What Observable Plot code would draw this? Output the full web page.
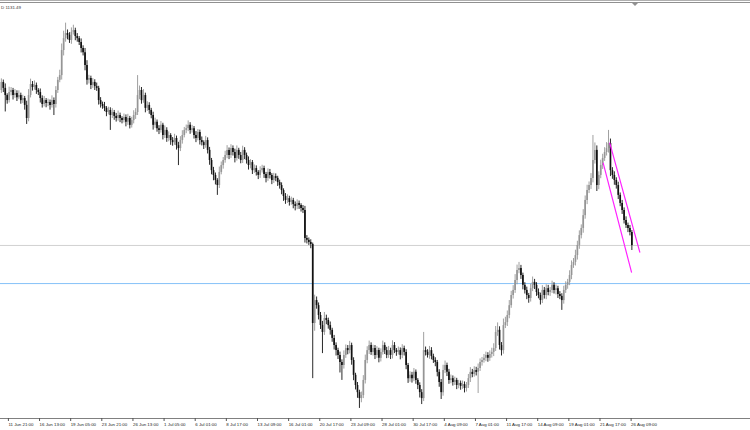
<!DOCTYPE html>
<html><head><meta charset="utf-8">
<script src="https://cdn.jsdelivr.net/npm/d3@7"></script>
<script src="https://cdn.jsdelivr.net/npm/@observablehq/plot@0.6"></script>
<style>html,body{margin:0;padding:0;background:#fff;} svg{display:block}</style>
</head><body><div id="chart"></div>
<script>
// XAUUSD H4 — bar index 0 = 11 Jun 21:00
const firstBar = -3;
const firstOpen = 1183.5;
const closes = [
1186.2,1184.2,1181.8,1180.1,1182.8,1183.5,1181.8,1182.5,1181.1,1181.8,1180.1,1180.8,1178.5,1174.1,1181.8,1185.5,
1184.5,1185.2,1183.5,1182.8,1180.8,1178.8,1180.1,1179.1,1179.5,1178.5,1180.1,1178.8,1183.5,1186.9,1188.5,1196.9,
1200.9,1202.6,1202.0,1200.3,1203.0,1203.6,1201.6,1200.9,1199.6,1197.6,1196.2,1191.9,1186.9,1187.5,1185.2,1186.2,
1184.8,1184.2,1180.1,1178.8,1178.1,1177.5,1176.1,1176.8,1175.1,1176.1,1174.8,1174.1,1175.1,1174.1,1173.4,1174.4,
1172.8,1174.1,1171.8,1173.4,1175.1,1176.1,1181.8,1183.5,1180.1,1181.8,1177.5,1178.5,1176.8,1175.1,1171.8,1172.8,
1170.7,1170.1,1171.8,1168.4,1170.1,1167.4,1168.4,1166.7,1166.0,1167.4,1165.0,1164.0,1166.7,1168.4,1170.1,1170.7,
1171.8,1170.1,1170.7,1168.4,1167.4,1169.4,1166.7,1166.0,1165.0,1166.7,1163.4,1160.0,1156.6,1155.0,1153.3,1151.6,
1156.0,1158.3,1160.0,1161.7,1163.4,1161.7,1164.0,1162.7,1160.7,1163.4,1161.7,1160.0,1163.4,1161.7,1160.0,1158.3,
1159.3,1156.6,1157.3,1156.0,1155.0,1156.6,1157.3,1155.3,1154.0,1156.0,1155.0,1153.3,1154.6,1154.0,1152.6,1151.6,
1149.9,1147.9,1146.6,1147.2,1145.9,1146.6,1145.2,1144.6,1145.6,1144.9,1143.9,1143.2,1133.8,1133.2,1132.5,1131.8,
1105.3,1113.0,1111.3,1108.0,1104.6,1102.3,1107.0,1106.3,1104.6,1103.0,1100.3,1097.9,1096.2,1094.6,1092.2,1091.2,
1094.6,1096.9,1096.2,1097.9,1092.9,1087.9,1084.5,1082.1,1080.1,1081.1,1086.2,1092.9,1096.2,1097.9,1095.6,1096.9,
1094.6,1096.2,1093.6,1095.6,1097.9,1096.2,1094.6,1096.2,1094.6,1097.9,1096.2,1095.6,1096.2,1094.6,1096.9,1095.6,
1091.2,1086.8,1087.9,1086.8,1088.9,1086.2,1084.5,1082.1,1080.1,1096.2,1095.6,1094.6,1096.2,1094.2,1092.9,1092.2,
1088.9,1085.5,1082.1,1089.5,1091.2,1088.9,1086.2,1086.8,1085.5,1086.2,1084.5,1085.2,1084.2,1084.8,1083.5,1084.5,
1086.8,1088.9,1088.2,1089.5,1088.9,1090.2,1092.2,1092.9,1093.6,1094.6,1093.6,1094.9,1095.6,1096.9,1102.3,1103.0,
1097.9,1096.2,1104.6,1105.6,1108.0,1111.3,1114.7,1116.4,1119.7,1123.1,1123.8,1121.4,1118.1,1116.4,1114.7,1113.7,
1117.0,1119.1,1118.1,1115.7,1114.7,1113.0,1116.4,1114.7,1117.0,1115.7,1116.4,1118.1,1116.4,1117.0,1115.0,1114.4,
1113.0,1116.4,1118.1,1119.1,1121.4,1124.8,1125.8,1128.1,1131.5,1134.8,1137.2,1141.5,1146.6,1149.9,1151.6,1154.0,
1160.0,1163.4,1151.6,1155.0,1158.3,1160.7,1162.7,1164.0,1165.7,1156.6,1155.0,1153.3,1151.6,1148.3,1145.6,1143.2,
1139.9,1138.2,1137.2,1135.8,1131.5
];
const upWick = [
1.2,0.8,1.5,0.6,1.8,1.0,0.7,1.3,0.9,1.6,0.8,1.1,0.7,1.4,2.0,1.8,
1.0,1.5,0.8,0.6,1.2,0.9,1.4,0.7,1.1,0.8,1.6,0.9,1.3,1.0,1.8,2.2,
2.5,3.5,1.2,0.9,1.5,1.8,0.8,1.0,0.7,1.2,0.9,1.4,1.6,1.1,0.8,1.3,
0.9,1.2,0.7,1.0,0.8,1.4,0.6,1.1,0.9,1.3,0.7,1.0,1.5,0.8,0.6,1.2,
0.9,1.4,0.7,1.1,1.6,1.3,6.7,1.5,1.0,2.0,0.8,1.2,0.9,0.7,1.1,1.4,
0.8,1.0,1.3,0.7,1.5,0.9,1.2,0.6,1.0,1.4,0.8,1.1,1.3,1.6,1.0,1.2,
1.5,0.9,1.1,0.7,1.3,1.0,0.8,1.2,0.6,1.4,0.9,1.0,0.7,1.1,0.8,0.6,
1.8,1.2,1.0,1.4,1.6,0.8,1.3,0.9,1.1,1.5,0.7,1.0,1.4,0.9,0.8,1.2,
1.0,0.7,1.2,0.9,0.6,1.3,1.1,0.8,0.7,1.2,1.0,0.6,1.1,0.9,0.7,0.8,
0.9,0.6,1.0,1.3,0.8,1.1,0.7,0.9,1.2,0.8,0.6,1.0,1.4,1.0,0.8,0.9,
0.5,1.8,1.2,0.9,1.0,1.4,2.0,1.1,0.8,1.2,0.7,1.0,0.9,0.8,1.1,0.9,
1.5,1.2,1.0,1.4,0.8,0.9,0.7,1.0,0.8,1.2,1.6,1.8,1.3,1.5,0.9,1.1,
1.0,1.3,0.8,1.2,1.5,0.9,1.1,1.4,0.8,1.6,1.0,0.7,1.2,0.9,1.3,0.8,
0.9,0.7,1.2,1.0,1.3,0.8,0.6,0.9,1.0,6.1,1.2,0.9,1.4,1.0,0.8,0.9,
0.7,0.9,1.0,1.8,1.5,0.8,1.0,1.2,0.9,1.1,0.7,1.0,0.8,1.2,0.9,1.0,
1.4,1.6,1.0,1.3,1.1,1.5,1.2,1.0,1.3,1.1,0.9,1.2,1.4,1.6,2.0,2.5,
1.2,1.0,2.2,1.8,1.5,1.7,1.4,1.6,2.0,1.8,2.0,1.0,0.8,0.9,1.1,0.7,
1.5,1.8,1.0,0.9,1.2,0.8,1.6,1.0,1.3,1.1,1.0,1.4,0.9,1.2,0.8,1.0,
0.9,1.4,1.2,1.0,1.6,1.5,1.3,1.8,1.4,1.6,1.2,2.0,1.5,1.8,1.2,1.6,
8.4,2.5,1.5,1.2,1.8,1.4,1.6,2.0,4.4,1.5,1.0,1.2,0.9,1.1,0.8,1.0,
0.9,1.2,0.8,1.0,0.7
];
const downWick = [
1.0,1.4,5.5,1.2,0.8,1.1,1.5,0.9,1.3,0.7,1.2,1.0,1.6,2.0,1.1,0.8,
1.2,0.9,1.3,1.0,1.5,1.2,0.8,1.4,1.0,1.6,0.9,3.7,1.2,1.0,0.8,1.5,
1.8,1.2,1.5,1.0,1.3,0.9,1.4,1.2,1.0,1.5,1.1,1.8,1.6,1.2,1.4,1.0,
1.3,1.0,1.5,1.2,0.9,1.1,1.4,0.8,5.0,1.0,1.3,1.2,0.9,1.4,1.1,0.8,
1.5,1.0,1.2,0.9,1.1,1.3,1.0,1.4,1.2,0.9,1.5,1.0,1.3,1.1,1.6,1.0,
1.2,1.4,0.9,1.5,1.0,1.3,1.1,1.6,1.2,0.9,1.5,5.7,1.0,1.2,0.8,1.1,
1.0,1.3,0.9,1.2,1.4,0.8,1.5,1.1,1.3,0.9,1.2,1.6,1.4,1.8,1.5,3.3,
1.0,0.8,1.2,0.9,1.1,1.4,1.0,1.2,1.5,0.9,1.3,1.1,1.0,1.4,1.2,1.5,
1.1,1.3,0.9,1.2,1.4,1.0,0.8,1.3,1.5,1.0,1.2,1.4,1.0,1.1,1.3,1.2,
1.4,1.6,1.3,1.0,1.2,0.9,1.4,1.5,1.1,1.3,1.2,1.0,1.5,1.2,1.0,1.4,
18.5,2.6,1.2,1.5,1.3,7.1,1.0,1.4,1.2,1.6,1.3,1.5,1.8,1.4,3.5,5.0,
1.2,1.0,1.4,1.1,1.6,1.8,1.5,1.9,3.3,1.4,1.0,1.2,1.1,1.3,1.0,1.2,
1.4,1.0,1.5,1.2,0.9,1.3,1.1,1.0,1.4,1.2,1.0,1.3,0.9,1.5,1.1,1.2,
1.4,1.6,1.2,1.5,1.0,1.3,1.4,1.8,2.0,1.0,1.2,0.9,1.3,1.1,1.0,1.4,
1.5,1.6,2.3,1.2,1.0,1.4,1.3,1.1,1.2,1.0,1.4,1.1,1.3,1.0,1.5,1.2,
1.0,1.3,1.1,0.9,1.2,7.1,1.0,1.2,0.9,1.1,1.3,1.0,1.2,1.4,1.0,1.3,
1.5,1.8,1.2,1.0,1.3,1.1,0.9,1.2,1.0,1.4,1.1,1.3,1.5,1.2,1.4,1.6,
1.2,1.0,1.4,1.3,1.1,1.5,1.0,1.2,1.4,1.1,1.3,1.0,1.2,1.5,1.3,1.1,
3.3,1.2,1.0,1.3,1.1,1.4,1.0,1.2,1.5,1.3,1.1,1.6,1.2,1.4,1.0,1.3,
1.5,1.2,2.0,1.4,1.1,1.3,1.0,1.2,1.5,2.0,1.3,1.6,1.2,1.4,1.1,1.3,
1.2,1.0,1.4,1.1,1.7
];
const tickLabels = [
"11 Jun 21:00","16 Jun 13:00","19 Jun 05:00","23 Jun 21:00","26 Jun 13:00","1 Jul 05:00",
"6 Jul 01:00","8 Jul 17:00","13 Jul 09:00","16 Jul 01:00","20 Jul 17:00","23 Jul 09:00",
"28 Jul 01:00","30 Jul 17:00","4 Aug 09:00","7 Aug 01:00","11 Aug 17:00","14 Aug 09:00",
"19 Aug 01:00","21 Aug 17:00","26 Aug 09:00"
];
const tickEvery = 16;            // bars between time labels
const headerText = "D 1131.49";
const bidPrice = 1131.49;
const levelPrice = 1118.7;
const channelUpper = [[309.66, 1165.81], [325.07, 1129.23]];
const channelLower = [[306.27, 1159.10], [320.81, 1122.52]];

const bars = closes.map((c, k) => {
  const o = k ? closes[k - 1] : firstOpen;
  return {i: firstBar + k, o, c, h: Math.max(o, c) + upWick[k], l: Math.min(o, c) - downWick[k], up: c >= o};
});
const channel = [
  ...channelUpper.map(([i, p]) => ({i, p, line: "upper"})),
  ...channelLower.map(([i, p]) => ({i, p, line: "lower"}))
];
const tickBars = tickLabels.map((_, k) => k * tickEvery);
const bull = "#959595", bear = "#111111";

const plot = Plot.plot({
  width: 750, height: 430,
  marginTop: 0, marginBottom: 12, marginLeft: 0, marginRight: 0,
  style: {background: "#fff", fontFamily: "Liberation Sans, Arial, sans-serif", fontSize: "4.4px", color: "#222"},
  x: {type: "linear", domain: [-3.443, 381.96], axis: null},
  y: {domain: [1073.42, 1213.7], axis: null},
  marks: [
    Plot.ruleY([bidPrice], {stroke: "#d2d2d2", strokeWidth: 1}),
    Plot.ruleY([levelPrice], {stroke: "#86c2f8", strokeWidth: 1}),
    Plot.ruleX(bars, {x: "i", y1: "l", y2: "h", stroke: d => d.up ? bull : bear, strokeWidth: 0.9}),
    Plot.ruleX(bars, {x: "i", y1: "o", y2: "c", stroke: d => d.up ? bull : bear, strokeWidth: 1.7}),
    Plot.line(channel, {x: "i", y: "p", z: "line", stroke: "#ff22ff", strokeWidth: 1.2}),
    Plot.frame({anchor: "bottom", stroke: "#808080"}),
    Plot.axisX({ticks: tickBars, tickFormat: d => tickLabels[Math.round(d / tickEvery)], label: null, tickSize: 3, tickPadding: 1.5, textAnchor: "start", dx: 1.2, stroke: "#555", fill: "#222"})
  ]
});
const svg = d3.select(plot);
svg.append("line").attr("x1", 0).attr("x2", 750).attr("y1", 0.5).attr("y2", 0.5).attr("stroke", "#b0b0b0");
svg.append("line").attr("x1", 0).attr("x2", 750).attr("y1", 2.5).attr("y2", 2.5).attr("stroke", "#909090");
svg.append("path").attr("d", "M632,3 L638,3 L635,6 Z").attr("fill", "#909090");
svg.append("text").attr("x", 1).attr("y", 9).attr("text-anchor", "start").attr("font-size", "4.4px").attr("fill", "#333").text(headerText);
document.getElementById("chart").appendChild(plot);
</script>
</body></html>
